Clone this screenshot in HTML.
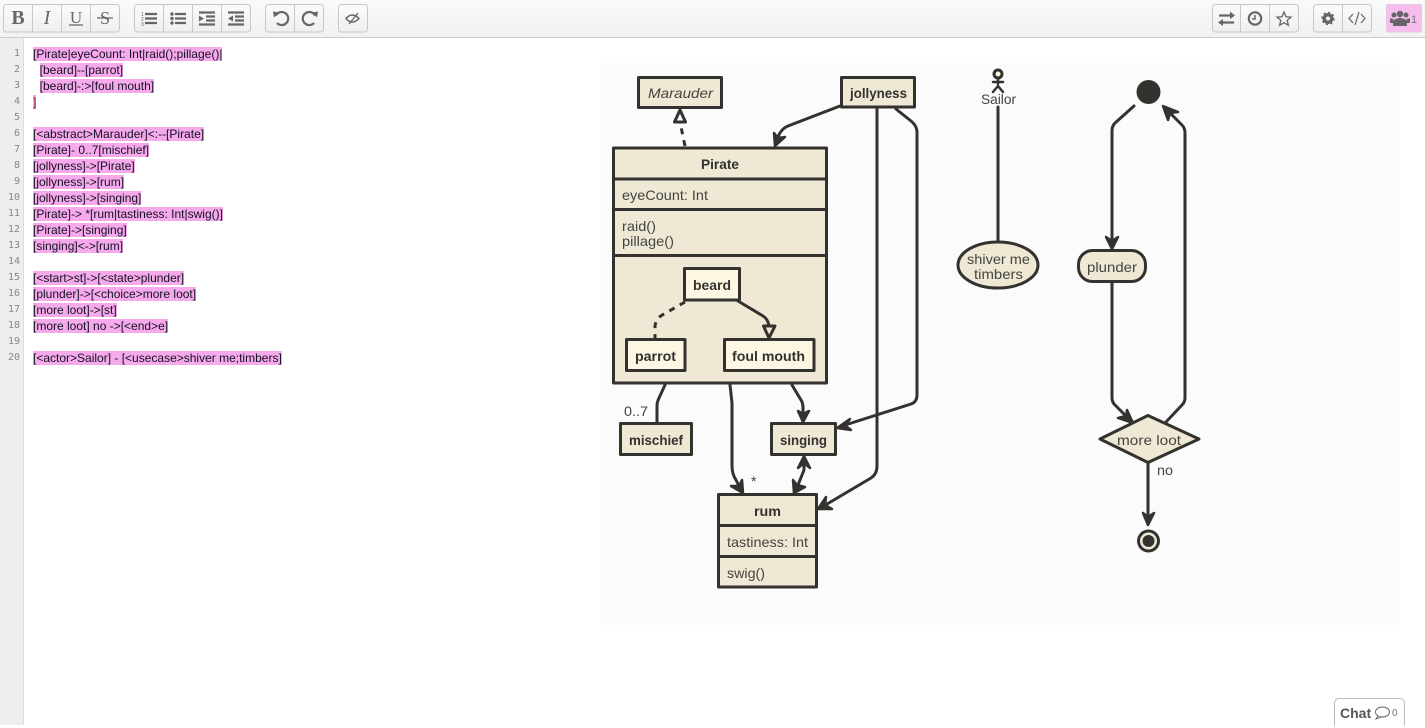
<!DOCTYPE html>
<html><head><meta charset="utf-8"><style>
html,body{margin:0;padding:0;width:1425px;height:725px;overflow:hidden;background:#fff}
#tb{position:absolute;left:0;top:0;width:1425px;height:37px;background:linear-gradient(#fafafa,#f1f1f1);border-bottom:1px solid #ccc}
#gut{position:absolute;left:0;top:38px;width:23px;height:687px;background:#eee;border-right:1px solid #ddd}
.n{position:absolute;right:3px;font:10px/16px "DejaVu Sans Mono",monospace;color:#888}
.l{position:absolute;left:33px;font:12px/16px "Liberation Sans",sans-serif;color:#112;white-space:pre;height:16px}
.l b{font-weight:normal;background:#f6aaec}
#s{position:absolute;left:0;top:0}
#chat{position:absolute;left:1334px;top:698px;width:69px;height:27px;border:1px solid #bbb;border-bottom:0;border-radius:5px 5px 0 0;background:#fff;font:bold 14px/29px "Liberation Sans",sans-serif;color:#555;padding-left:0}
</style></head><body>
<div id="tb"></div>
<div id="gut">
<div class="n" style="top:8px">1</div><div class="n" style="top:24px">2</div><div class="n" style="top:40px">3</div><div class="n" style="top:56px">4</div><div class="n" style="top:72px">5</div><div class="n" style="top:88px">6</div><div class="n" style="top:104px">7</div><div class="n" style="top:120px">8</div><div class="n" style="top:136px">9</div><div class="n" style="top:152px">10</div><div class="n" style="top:168px">11</div><div class="n" style="top:184px">12</div><div class="n" style="top:200px">13</div><div class="n" style="top:216px">14</div><div class="n" style="top:232px">15</div><div class="n" style="top:248px">16</div><div class="n" style="top:264px">17</div><div class="n" style="top:280px">18</div><div class="n" style="top:296px">19</div><div class="n" style="top:312px">20</div>
</div>
<div class="l" style="top:46px"><b>[Pirate|eyeCount: Int|raid();pillage()|</b></div>
<div class="l" style="top:62px">  <b>[beard]--[parrot]</b></div>
<div class="l" style="top:78px">  <b>[beard]-:&gt;[foul mouth]</b></div>
<div class="l" style="top:94px"><b style="color:#811">]</b></div>
<div class="l" style="top:126px"><b>[&lt;abstract&gt;Marauder]&lt;:--[Pirate]</b></div>
<div class="l" style="top:142px"><b>[Pirate]- 0..7[mischief]</b></div>
<div class="l" style="top:158px"><b>[jollyness]-&gt;[Pirate]</b></div>
<div class="l" style="top:174px"><b>[jollyness]-&gt;[rum]</b></div>
<div class="l" style="top:190px"><b>[jollyness]-&gt;[singing]</b></div>
<div class="l" style="top:206px"><b>[Pirate]-&gt; *[rum|tastiness: Int|swig()]</b></div>
<div class="l" style="top:222px"><b>[Pirate]-&gt;[singing]</b></div>
<div class="l" style="top:238px"><b>[singing]&lt;-&gt;[rum]</b></div>
<div class="l" style="top:270px"><b>[&lt;start&gt;st]-&gt;[&lt;state&gt;plunder]</b></div>
<div class="l" style="top:286px"><b>[plunder]-&gt;[&lt;choice&gt;more loot]</b></div>
<div class="l" style="top:302px"><b>[more loot]-&gt;[st]</b></div>
<div class="l" style="top:318px"><b>[more loot] no -&gt;[&lt;end&gt;e]</b></div>
<div class="l" style="top:350px"><b>[&lt;actor&gt;Sailor] - [&lt;usecase&gt;shiver me;timbers]</b></div>

<svg id="s" width="1425" height="725" viewBox="0 0 1425 725" xmlns="http://www.w3.org/2000/svg">
<defs><linearGradient id="bg" x1="0" y1="0" x2="0" y2="1"><stop offset="0" stop-color="#fbfbfb"/><stop offset="1" stop-color="#efefef"/></linearGradient></defs>
<!-- toolbar -->
<g fill="url(#bg)" stroke="#c8c8c8" stroke-width="1">
<rect x="3.5" y="4.5" width="116" height="27.5" rx="3"/><rect x="134.5" y="4.5" width="116" height="27.5" rx="3"/><rect x="265.5" y="4.5" width="58" height="27.5" rx="3"/><rect x="338.5" y="4.5" width="29" height="27.5" rx="3"/>
<rect x="1212.5" y="4.5" width="86" height="27.5" rx="3"/><rect x="1313.5" y="4.5" width="58" height="27.5" rx="3"/>
<rect x="1386.5" y="4.5" width="35" height="27.5" rx="2" fill="#f6bdee" stroke="#e6c8e2"/>
</g>
<path d="M32.5 5V32M61.5 5V32M90.5 5V32M163.5 5V32M192.5 5V32M221.5 5V32M294.5 5V32M1240.5 5V32M1269.5 5V32M1342.5 5V32" stroke="#c8c8c8" fill="none"/>
<g fill="#666" font-family="Liberation Serif,serif" font-size="19" text-anchor="middle">
<text x="18" y="24" font-weight="bold" font-size="20">B</text><text x="47" y="24" font-style="italic" font-size="20">I</text><text x="76" y="23" font-size="17">U</text><text x="105" y="24" font-size="18">S</text>
</g>
<path d="M69 25H83M97 18H113" stroke="#666" stroke-width="1.3"/>
<g stroke="#666" stroke-width="2.2" fill="none">
<path d="M145 14H157M145 18.500H157M145 23H157"/>
<path d="M175 14H186M175 18.500H186M175 23H186"/>
<path d="M199 12.500H215M206 16.500H215M206 20.500H215M199 24.500H215"/>
<path d="M228 12.500H244M235 16.500H244M235 20.500H244M228 24.500H244"/>
</g>
<g fill="#666"><circle cx="172" cy="14" r="1.700"/><circle cx="172" cy="18.500" r="1.700"/><circle cx="172" cy="23" r="1.700"/>
<path d="M199 15.500L204 18.500L199 21.500ZM233 15.500L228 18.500L233 21.500Z"/>
<text x="141" y="16" font-size="5" font-family="Liberation Sans,sans-serif">1</text><text x="141" y="21" font-size="5" font-family="Liberation Sans,sans-serif">2</text><text x="141" y="26" font-size="5" font-family="Liberation Sans,sans-serif">3</text>
<path d="M273 11.500L279 12.500L274 17.500ZM318 11.500L312 12.500L317 17.500Z"/>
<path d="M1230 11.500L1235 15.500L1230 19ZM1223 19L1218 22.500L1223 26Z"/>
</g>
<g stroke="#666" stroke-width="2.200" fill="none">
<path d="M276 15.500A6.500 6.500 0 1 1 277 23"/><path d="M315 15.500A6.500 6.500 0 1 0 314 23"/>
<path d="M346 18.500Q352 11.500 359 18.500Q352 25.500 346 18.500Z" stroke-width="1.500"/><path d="M349 24L358 13" stroke-width="1.300"/>
<path d="M1219 15.500H1231M1234 22.500H1222" stroke-width="2.200"/>
<circle cx="1255" cy="18.500" r="6.200"/><path d="M1255 15V19H1252" stroke-width="1.500"/>
<path d="M1284 12L1286 16.800L1291 17.200L1287.200 20.400L1288.400 25.300L1284 22.700L1279.600 25.300L1280.800 20.400L1277 17.200L1282 16.800Z" stroke-width="1.300"/>
<path d="M1353 14L1349 18.500L1353 23M1361 14L1365 18.500L1361 23M1359 12L1355 25" stroke-width="1.200"/>
<circle cx="1328" cy="18.500" r="3.800" stroke-width="3.500"/><circle cx="1328" cy="18.500" r="6" stroke-width="1.500" stroke-dasharray="2 2.700"/>
</g>
<g fill="#666"><circle cx="1400" cy="14" r="3.200"/><circle cx="1394" cy="15" r="2.500"/><circle cx="1406" cy="15" r="2.500"/><path d="M1393 26V20.500Q1400 15.500 1407 20.500V26Z"/><path d="M1390 23V18.500H1393V23ZM1407 18.500H1410V23H1407Z"/>
<text x="1411" y="23" font-size="11" font-family="Liberation Sans,sans-serif" fill="#777">1</text></g>

<!-- diagram bg -->
<rect x="600" y="63" width="800" height="562" fill="#fbfbfb"/>

<g stroke="#33322e" stroke-width="3" fill="none" stroke-linejoin="round" stroke-linecap="round">
<!-- connectors -->
<path d="M685 146L680 122" stroke-dasharray="6 6" stroke-linecap="butt"/>
<path d="M680 110L674.500 122H685.500Z" fill="#fbfbfb"/>
<path d="M840 106L788 126Q780 129 776 142"/>
<path d="M877 108V466Q877 474 871 478L822 507"/>
<path d="M896 109L911 121Q917 126 917 132V395Q917 402 911 404L842 426"/>
<path d="M665 385L659 398Q657 402 657 406V423"/>
<path d="M730 385L732 403V466Q732 474 736 480L741 490"/>
<path d="M792 385L801 400Q803 403 803 408V418"/>
<path d="M804 460V470L796 490"/>
<path d="M998 107V241"/>
<path d="M1134 106L1115 123Q1112 126 1112 131V245"/>
<path d="M1112 282V398Q1112 402 1115 405L1130 420"/>
<path d="M1166 422L1182 405Q1185 402 1185 398V133Q1185 128 1182 125L1167 110"/>
<path d="M1148 462V521"/>
</g>
<!-- arrowheads -->
<g stroke="#33322e" stroke-width="2.500" fill="#33322e" stroke-linejoin="round" stroke-linecap="round">
<path d="M774 133L775 146L785 137L778 138Z"/>
<path d="M826 497L818 509L832 509L825 505Z"/>
<path d="M850 419L837 428L851 430L845 425.500Z"/>
<path d="M731 486L743 493L742 480L739 486Z"/>
<path d="M798 411L803 422L809 411L803 414Z"/>
<path d="M798 468L804 456L810 468L804 463Z"/>
<path d="M793 480L794 493L805 487L797 485Z"/>
<path d="M1106 237L1112 249L1118 237L1112 241Z"/>
<path d="M1127 410L1133 423L1118 418L1126 416Z"/>
<path d="M1178 112L1163 106L1168 120L1170 113Z"/>
<path d="M1143 513L1148 525L1154 513L1148 517Z"/>
</g>
<!-- nodes -->
<g stroke="#33322e" stroke-width="3" fill="#eee8d5" stroke-linejoin="round">
<rect x="638.500" y="77.500" width="83" height="30"/>
<rect x="841.500" y="77.500" width="73" height="29.500"/>
<rect x="613.500" y="148" width="213" height="235"/>
<path d="M613 179H827M613 209.500H827M613 255.500H827" fill="none"/>
<rect x="620.500" y="423.500" width="71" height="31"/>
<rect x="771.500" y="423.500" width="64" height="31"/>
<rect x="718.500" y="494.500" width="98" height="92.500"/>
<path d="M718 525.500H817M718 556.500H817" fill="none"/>
<ellipse cx="998" cy="265" rx="40" ry="23"/>
<rect x="1078.500" y="250.500" width="67" height="31" rx="14"/>
<path d="M1148 415.500L1199 439L1148 462.500L1100 439Z"/>
</g>
<g stroke="#33322e" stroke-width="3" fill="#fdf6e3" stroke-linejoin="round">
<rect x="684.500" y="268.500" width="55" height="31.500"/>
<rect x="626.500" y="339.500" width="58.500" height="31"/>
<rect x="724.500" y="339.500" width="89.500" height="31"/>
</g>
<g stroke="#33322e" stroke-width="3" fill="none" stroke-linejoin="round" stroke-linecap="round">
<path d="M685 302L664 314Q656 318 655 326V338" stroke-dasharray="6 6" stroke-linecap="butt"/>
<path d="M738 301L763 316Q768 319 769 326"/>
<path d="M769 338L763.500 326H775Z" fill="#eee8d5"/>
<circle cx="998" cy="74" r="4" fill="#fdf6e3"/>
<path d="M998 78V84M993 82H1003M993 92L998 86L1003 92" stroke-width="2.500"/>
</g>
<circle cx="1148.500" cy="92" r="12" fill="#33322e"/>
<circle cx="1148.500" cy="541" r="11.500" fill="#33322e"/>
<circle cx="1148.500" cy="541" r="8.500" fill="#eee8d5"/>
<circle cx="1148.500" cy="541" r="6" fill="#33322e"/>

<!-- labels -->
<g font-family="Liberation Sans,sans-serif" font-size="14" fill="#45443f">
<text x="648" y="98" font-style="italic" textLength="65" lengthAdjust="spacingAndGlyphs">Marauder</text>
<text x="850" y="98" font-weight="bold" fill="#33322e" textLength="57" lengthAdjust="spacingAndGlyphs">jollyness</text>
<text x="701" y="169" font-weight="bold" fill="#33322e" textLength="38" lengthAdjust="spacingAndGlyphs">Pirate</text>
<text x="622" y="200" textLength="86" lengthAdjust="spacingAndGlyphs">eyeCount: Int</text>
<text x="622" y="231" textLength="34" lengthAdjust="spacingAndGlyphs">raid()</text>
<text x="622" y="246" textLength="52" lengthAdjust="spacingAndGlyphs">pillage()</text>
<text x="693" y="290" font-weight="bold" fill="#33322e" textLength="38" lengthAdjust="spacingAndGlyphs">beard</text>
<text x="635" y="361" font-weight="bold" fill="#33322e" textLength="41" lengthAdjust="spacingAndGlyphs">parrot</text>
<text x="732" y="361" font-weight="bold" fill="#33322e" textLength="73" lengthAdjust="spacingAndGlyphs">foul mouth</text>
<text x="629" y="445" font-weight="bold" fill="#33322e" textLength="54" lengthAdjust="spacingAndGlyphs">mischief</text>
<text x="780" y="445" font-weight="bold" fill="#33322e" textLength="47" lengthAdjust="spacingAndGlyphs">singing</text>
<text x="754" y="516" font-weight="bold" fill="#33322e" textLength="27" lengthAdjust="spacingAndGlyphs">rum</text>
<text x="727" y="547" textLength="81" lengthAdjust="spacingAndGlyphs">tastiness: Int</text>
<text x="727" y="578" textLength="38" lengthAdjust="spacingAndGlyphs">swig()</text>
<text x="624" y="416" textLength="24" lengthAdjust="spacingAndGlyphs">0..7</text>
<text x="751" y="486">*</text>
<text x="981" y="104" textLength="35" lengthAdjust="spacingAndGlyphs">Sailor</text>
<text x="967" y="264" textLength="63" lengthAdjust="spacingAndGlyphs">shiver me</text>
<text x="974" y="279" textLength="49" lengthAdjust="spacingAndGlyphs">timbers</text>
<text x="1087" y="272" textLength="50" lengthAdjust="spacingAndGlyphs">plunder</text>
<text x="1117" y="445" textLength="64" lengthAdjust="spacingAndGlyphs">more loot</text>
<text x="1157" y="475" textLength="16" lengthAdjust="spacingAndGlyphs">no</text>
</g>
</svg>
<div id="chat"><span style="position:absolute;left:5px;top:0">Chat</span>
<svg style="position:absolute;left:39px;top:6px" width="28" height="16" viewBox="0 0 28 16"><ellipse cx="8.500" cy="7" rx="7" ry="5" fill="none" stroke="#666"/><path d="M4 11L2 14L7 12" fill="#fff" stroke="#666"/><text x="18" y="11" font-size="10" font-weight="normal" font-family="Liberation Sans,sans-serif" fill="#777">0</text></svg>
</div>
</body></html>
